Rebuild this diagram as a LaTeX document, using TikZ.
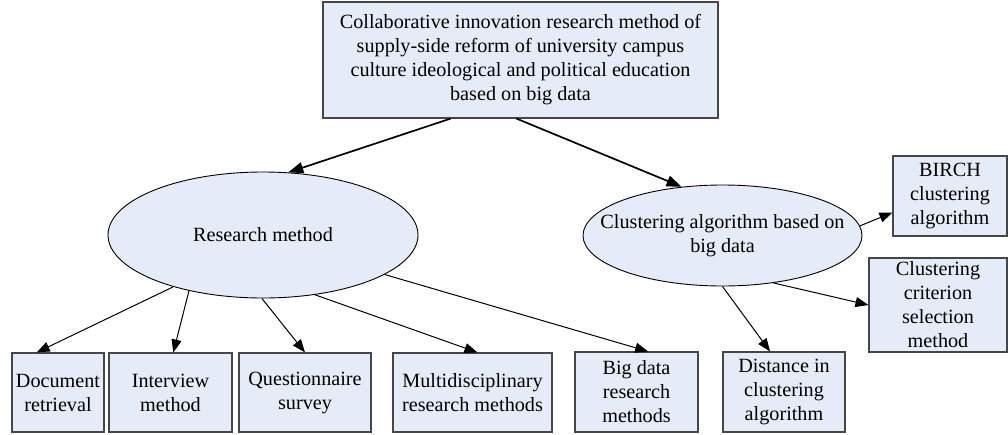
\documentclass[tikz,border=0pt]{standalone}
\usepackage{fontspec}
\setmainfont{Liberation Serif}
\usetikzlibrary{shapes.geometric,arrows.meta}
\definecolor{boxfill}{RGB}{230,236,247}
\definecolor{boxline}{RGB}{70,70,70}
\begin{document}
\begin{tikzpicture}[x=1pt,y=-1pt,
  every node/.style={font=\fontsize{20.2}{24}\selectfont, align=center, inner sep=0pt},
  box/.style={rectangle, draw=boxline, line width=1.1pt, fill=boxfill},
  oval/.style={ellipse, draw=black, line width=0.9pt, fill=boxfill, inner xsep=-40pt, inner ysep=-10pt},
  link/.style={line width=1pt, -{Triangle[length=13pt,width=10pt]}},
  mainlink/.style={line width=1.7pt, -{Triangle[length=15pt,width=11pt]}}]
\useasboundingbox (0,0) rectangle (1008,434);

% root
\node[box, minimum width=395pt, minimum height=116pt] (top) at (520.5,60)
  {Collaborative innovation research method of\\supply-side reform of university campus\\culture ideological and political education\\based on big data};

% second level (ellipse sizes fixed by minimum width/height)
\node[oval, minimum width=310pt, minimum height=126pt] (rm) at (263,235) {Research method};
\node[oval, minimum width=279pt, minimum height=101pt] (ca) at (722.5,235.5)
  {Clustering algorithm based on\\big data};

% leaves under the research method
\node[box, minimum width=92pt, minimum height=79pt] (doc) at (58,392.5) {Document\\retrieval};
\node[box, minimum width=123pt, minimum height=79pt] (iv) at (170.5,392.5) {Interview\\method};
\node[box, minimum width=132pt, minimum height=79pt] (qs) at (305,392.5) {Questionnaire\\survey};
\node[box, minimum width=159pt, minimum height=79pt] (md) at (472.5,392.5) {Multidisciplinary\\research methods};
\node[box, minimum width=123pt, minimum height=80pt] (bd) at (636.5,392) {Big data\\research\\methods};

% leaves under the clustering algorithm
\node[box, minimum width=122pt, minimum height=80pt] (dc) at (784,392) {Distance in\\clustering\\algorithm};
\node[box, minimum width=114pt, minimum height=80pt] (bi) at (950,196) {BIRCH\\clustering\\algorithm};
\node[box, minimum width=138pt, minimum height=94pt] (cc) at (938,305) {Clustering\\criterion\\selection\\method};

% connectors
\draw[mainlink] (top.220.7) -- (rm.68);
\draw[mainlink] (top.266.5) -- (ca.130);

\draw[link] (rm.210) -- (doc.118);
\draw[link] (rm.217.8) -- (iv.86);
\draw[link] (rm.269) -- (qs.north);
\draw[link] (rm.311) -- (md.83.5);
\draw[link] (rm.342.5) -- (bd.74);

\draw[link] (ca.4.4) -- (bi.196.6);
\draw[link] (ca.317.4) -- (cc.west);
\draw[link] (ca.270) -- (dc.109.3);
\end{tikzpicture}
\end{document}
